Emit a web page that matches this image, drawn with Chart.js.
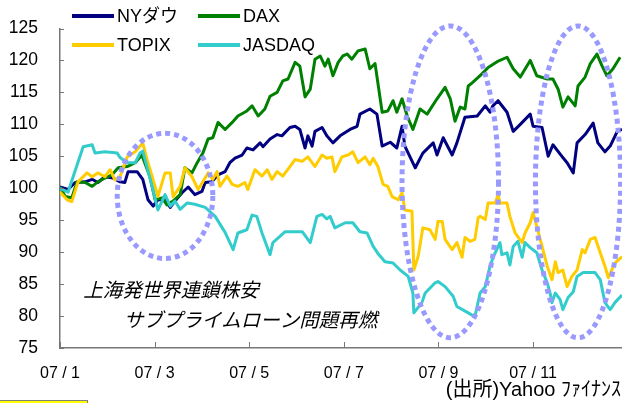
<!DOCTYPE html>
<html>
<head>
<meta charset="utf-8">
<script src="https://cdn.jsdelivr.net/npm/chart.js@4/dist/chart.umd.min.js"></script>
<style>
  html, body { margin: 0; padding: 0; background: #fff; }
  #wrap { width: 622px; height: 403px; }
</style>
</head>
<body>
<div id="wrap"><canvas id="IndexChart" width="622" height="403"></canvas></div>
<script>
"use strict";

// 2007, index (start = 100). x is months from 07/1
const seriesNames = ["NYダウ", "DAX", "TOPIX", "JASDAQ"];
const seriesColors = ["#000080", "#008000", "#FFCC00", "#33CCCC"];

const nyMonths = [0, 0.17, 0.32, 0.53, 0.68, 0.80, 0.95, 1.12, 1.27, 1.37, 1.44, 1.63, 1.75, 1.86, 1.97, 2.07, 2.22, 2.33, 2.43, 2.58,
    2.71, 2.85, 3.00, 3.07, 3.21, 3.34, 3.49, 3.59, 3.70, 3.85, 3.95, 4.08, 4.23, 4.29, 4.44, 4.59, 4.69, 4.86, 4.97, 5.07,
    5.18, 5.24, 5.33, 5.39, 5.54, 5.64, 5.77, 5.92, 6.13, 6.28, 6.34, 6.55, 6.70, 6.81, 6.98, 7.12, 7.23, 7.29, 7.51, 7.67,
    7.89, 7.97, 8.10, 8.29, 8.39, 8.56, 8.82, 8.99, 9.09, 9.15, 9.26, 9.45, 9.58, 9.73, 9.94, 10.00, 10.19, 10.32, 10.42, 10.61,
    10.72, 10.85, 10.93, 11.10, 11.27, 11.37, 11.52, 11.63, 11.78, 11.88];
const nyValues = [100.2, 99.8, 100.9, 101.0, 101.4, 100.9, 101.8, 101.6, 101.0, 100.9, 102.6, 102.6, 101.4, 98.2, 97.2, 98.2, 98.2, 97.0, 98.0, 99.3,
    100.2, 99.0, 99.5, 100.9, 101.0, 102.1, 102.6, 104.0, 104.7, 105.2, 106.3, 106.0, 107.1, 106.5, 107.7, 108.4, 108.2, 109.5, 109.7, 109.2,
    106.3, 108.2, 106.6, 108.9, 109.5, 108.2, 107.1, 108.2, 109.2, 109.7, 111.6, 112.4, 111.6, 106.6, 107.2, 106.3, 109.7, 106.6, 103.2, 105.5,
    107.1, 105.2, 107.9, 105.2, 107.1, 111.1, 111.3, 112.9, 111.9, 112.9, 113.7, 111.9, 108.9, 110.0, 111.6, 109.7, 109.5, 105.0, 106.8, 105.0,
    104.0, 102.4, 107.1, 108.4, 110.2, 107.1, 105.7, 106.6, 108.9, 109.2];

const daxMonths = [0, 0.11, 0.25, 0.36, 0.53, 0.68, 0.80, 0.95, 1.10, 1.23, 1.42, 1.59, 1.73, 1.90, 2.01, 2.16, 2.26, 2.39, 2.54, 2.64,
    2.79, 2.90, 3.02, 3.13, 3.23, 3.34, 3.49, 3.64, 3.76, 3.95, 4.06, 4.19, 4.33, 4.44, 4.59, 4.71, 4.82, 4.97, 5.07, 5.18,
    5.29, 5.39, 5.50, 5.60, 5.67, 5.77, 5.88, 5.98, 6.07, 6.17, 6.30, 6.45, 6.55, 6.66, 6.81, 6.93, 7.04, 7.12, 7.23, 7.34,
    7.46, 7.61, 7.76, 7.97, 8.14, 8.25, 8.35, 8.46, 8.56, 8.63, 8.73, 8.92, 9.05, 9.24, 9.45, 9.58, 9.73, 9.94, 10.08, 10.30,
    10.42, 10.53, 10.63, 10.74, 10.89, 10.95, 11.10, 11.21, 11.35, 11.46, 11.56, 11.69, 11.84];
const daxValues = [100.2, 98.7, 98.5, 101.0, 100.9, 100.3, 101.0, 101.6, 102.1, 103.2, 103.4, 104.0, 105.2, 101.8, 98.2, 98.5, 97.4, 98.0, 99.0, 103.2,
    102.4, 104.0, 105.5, 107.7, 107.9, 110.3, 109.2, 110.3, 111.3, 112.1, 112.9, 111.3, 112.4, 114.4, 115.0, 116.8, 117.1, 119.7, 119.1, 114.3,
    115.5, 120.2, 120.7, 119.1, 120.2, 117.6, 119.7, 120.7, 121.0, 120.2, 121.5, 121.8, 118.7, 119.5, 111.9, 112.1, 113.7, 111.9, 114.0, 111.3,
    109.2, 112.4, 111.6, 114.0, 115.8, 114.0, 110.5, 112.7, 112.4, 116.0, 116.6, 117.9, 118.9, 119.8, 120.5, 118.7, 117.4, 120.0, 117.6, 117.1,
    117.1, 115.5, 112.7, 114.3, 112.9, 116.0, 117.4, 119.5, 121.0, 119.1, 117.6, 118.7, 120.5];

const topixMonths = [0, 0.15, 0.25, 0.38, 0.57, 0.68, 0.80, 0.95, 1.06, 1.16, 1.27, 1.42, 1.59, 1.75, 1.84, 1.95, 2.07, 2.22, 2.33, 2.39,
    2.54, 2.64, 2.79, 2.92, 3.02, 3.13, 3.23, 3.32, 3.38, 3.53, 3.64, 3.76, 3.91, 3.97, 4.12, 4.27, 4.38, 4.48, 4.59, 4.71,
    4.86, 4.97, 5.12, 5.24, 5.39, 5.54, 5.64, 5.75, 5.81, 5.96, 6.09, 6.19, 6.30, 6.45, 6.55, 6.62, 6.72, 6.83, 6.93, 7.02,
    7.15, 7.23, 7.29, 7.44, 7.48, 7.57, 7.67, 7.82, 7.93, 7.99, 8.08, 8.14, 8.29, 8.39, 8.50, 8.56, 8.67, 8.77, 8.84, 8.88,
    8.99, 9.05, 9.20, 9.26, 9.30, 9.45, 9.51, 9.62, 9.77, 9.83, 9.94, 10.00, 10.08, 10.19, 10.30, 10.40, 10.47, 10.53, 10.63, 10.72,
    10.82, 10.93, 11.04, 11.10, 11.21, 11.31, 11.42, 11.52, 11.59, 11.73, 11.88];
const topixValues = [99.4, 98.2, 97.9, 101.0, 102.4, 101.8, 102.4, 101.8, 102.9, 101.3, 101.8, 104.9, 105.7, 107.1, 104.5, 101.8, 98.7, 102.4, 102.4, 98.7,
    100.3, 103.2, 101.8, 99.8, 101.0, 102.4, 101.4, 102.6, 100.3, 101.9, 100.6, 100.3, 100.9, 99.8, 102.9, 101.9, 102.9, 101.4, 102.6, 101.9,
    103.4, 104.5, 104.2, 104.9, 103.4, 105.2, 104.7, 104.9, 102.6, 104.9, 105.2, 105.7, 104.0, 104.9, 103.7, 104.7, 103.4, 100.6, 100.3, 98.7,
    98.2, 99.3, 96.6, 96.4, 87.2, 89.3, 93.8, 93.5, 92.0, 94.8, 94.8, 92.0, 90.4, 91.5, 89.2, 92.3, 91.7, 92.0, 95.4, 95.6,
    95.1, 97.7, 97.7, 99.0, 97.7, 97.7, 95.6, 93.0, 91.5, 93.0, 94.6, 96.2, 94.0, 90.9, 87.8, 85.7, 88.5, 86.8, 87.2, 84.6,
    86.2, 87.2, 90.4, 89.9, 92.0, 92.3, 89.9, 87.8, 86.0, 88.3, 89.3];

const jasdaqMonths = [0, 0.17, 0.49, 0.68, 0.74, 0.95, 1.21, 1.27, 1.42, 1.59, 1.69, 1.75, 1.95, 2.07, 2.22, 2.33, 2.43, 2.54, 2.69, 2.85,
    3.07, 3.28, 3.49, 3.66, 3.76, 3.95, 4.06, 4.16, 4.27, 4.44, 4.50, 4.76, 5.12, 5.29, 5.43, 5.54, 5.64, 5.71, 5.81, 6.03,
    6.19, 6.34, 6.49, 6.62, 6.72, 6.87, 7.04, 7.19, 7.36, 7.46, 7.48, 7.65, 7.72, 7.93, 7.99, 8.14, 8.31, 8.39, 8.63, 8.77,
    8.88, 8.99, 9.09, 9.15, 9.30, 9.34, 9.45, 9.51, 9.58, 9.68, 9.77, 9.83, 9.94, 10.08, 10.19, 10.30, 10.36, 10.40, 10.47, 10.57,
    10.63, 10.74, 10.85, 10.93, 11.06, 11.31, 11.42, 11.52, 11.63, 11.73, 11.88];
const jasdaqValues = [100.0, 99.4, 106.5, 106.8, 105.5, 105.7, 105.5, 104.8, 104.0, 104.0, 105.5, 105.8, 100.2, 96.6, 99.0, 97.2, 98.0, 96.7, 97.7, 97.5,
    97.0, 95.6, 93.1, 90.4, 93.0, 93.5, 95.8, 95.6, 93.0, 89.6, 91.5, 93.2, 93.2, 91.5, 95.6, 95.9, 95.2, 95.6, 93.8, 94.6,
    94.6, 93.2, 93.0, 90.9, 89.8, 88.5, 88.3, 87.2, 86.2, 83.6, 80.5, 82.1, 83.6, 85.2, 85.4, 84.6, 83.1, 81.5, 80.5, 79.9,
    83.6, 84.6, 87.8, 89.1, 91.5, 89.6, 89.9, 88.0, 90.9, 91.7, 89.2, 91.5, 90.7, 89.9, 87.2, 85.2, 83.6, 82.1, 83.6, 82.6,
    81.0, 82.9, 83.8, 86.2, 86.8, 86.8, 85.7, 82.1, 81.0, 82.1, 83.3];

const xTickMonths = [0, 2, 4, 6, 8, 10];
const xTickLabels = ["07 / 1", "07 / 3", "07 / 5", "07 / 7", "07 / 9", "07 / 11"];
const yMin = 75, yMax = 125, yStep = 5;

// dotted rings, in data units: centre month, centre value, half width (months), half height (points)
const rings = [
    { cx: 2.22, cy: 98.8, rx: 1.01, ry: 9.8 },
    { cx: 8.25, cy: 101.0, rx: 1.02, ry: 24.4 },
    { cx: 10.95, cy: 101.0, rx: 0.9, ry: 24.4 }
];
const notes = [
    { text: "上海発世界連鎖株安", x: 0.49, y: 84.1 },
    { text: "サブプライムローン問題再燃", x: 1.35, y: 79.4 }
];
const sourceText = "(出所)Yahoo ﾌｧｲﾅﾝｽ";

const latin = "'Liberation Sans', Arial, 'Noto Sans CJK JP', sans-serif";
const axisColor = "#777777";

function toPoints(months, values) {
    return months.map(function (m, i) {
        return { x: m, y: values[i] };
    });
}

const decorPlugin = {
    id: "decor",
    afterDatasetsDraw: function (chart) {
        const ctx = chart.ctx;
        const xs = chart.scales.x;
        const ys = chart.scales.y;
        const area = chart.chartArea;
        ctx.save();

        // inside tick marks
        ctx.strokeStyle = axisColor;
        ctx.lineWidth = 1;
        for (let v = yMin; v <= yMax; v += yStep) {
            const py = Math.round(ys.getPixelForValue(v)) + 0.5;
            ctx.beginPath();
            ctx.moveTo(area.left, py);
            ctx.lineTo(area.left + 4, py);
            ctx.stroke();
        }
        xTickMonths.forEach(function (m) {
            const px = Math.round(xs.getPixelForValue(m)) + 0.5;
            ctx.beginPath();
            ctx.moveTo(px, area.bottom);
            ctx.lineTo(px, area.bottom - 6);
            ctx.stroke();
        });

        // dotted rings
        ctx.strokeStyle = "#9999FF";
        ctx.lineWidth = 5;
        ctx.setLineDash([5, 4]);
        rings.forEach(function (r) {
            const cx = xs.getPixelForValue(r.cx);
            const cy = ys.getPixelForValue(r.cy);
            const rx = xs.getPixelForValue(r.cx + r.rx) - cx;
            const ry = cy - ys.getPixelForValue(r.cy + r.ry);
            ctx.beginPath();
            ctx.ellipse(cx, cy, rx, ry, 0, 0, Math.PI * 2);
            ctx.stroke();
        });
        ctx.setLineDash([]);

        // notes
        ctx.fillStyle = "#000";
        ctx.textBaseline = "middle";
        ctx.textAlign = "left";
        ctx.font = "italic 19.5px 'Noto Sans CJK JP', sans-serif";
        notes.forEach(function (n) {
            ctx.fillText(n.text, xs.getPixelForValue(n.x), ys.getPixelForValue(n.y));
        });

        // legend, two columns
        ctx.font = "18px " + latin;
        ctx.lineWidth = 4;
        const cols = [72, 198];
        const rows = [16, 45];
        seriesNames.forEach(function (name, i) {
            const lx = cols[i % 2];
            const ly = rows[Math.floor(i / 2)];
            ctx.strokeStyle = seriesColors[i];
            ctx.beginPath();
            ctx.moveTo(lx, ly);
            ctx.lineTo(lx + 42, ly);
            ctx.stroke();
            ctx.fillText(name, lx + 45, ly + 1);
        });

        // source
        ctx.font = "20px " + latin;
        ctx.textAlign = "right";
        ctx.fillText(sourceText, 621, 390);

        // yellow box peeking in at the bottom
        ctx.fillStyle = "#FFFF00";
        ctx.strokeStyle = "#808080";
        ctx.lineWidth = 1;
        ctx.fillRect(0, 400, 88, 6);
        ctx.strokeRect(-1.5, 400.5, 89, 8);
        ctx.restore();
    }
};

const datasets = [
    toPoints(nyMonths, nyValues),
    toPoints(daxMonths, daxValues),
    toPoints(topixMonths, topixValues),
    toPoints(jasdaqMonths, jasdaqValues)
].map(function (pts, i) {
    return {
        label: seriesNames[i],
        data: pts,
        borderColor: seriesColors[i],
        backgroundColor: seriesColors[i],
        borderWidth: 3,
        pointRadius: 0,
        tension: 0,
        borderJoinStyle: "round",
        order: 4 - i
    };
});

new Chart(document.getElementById("IndexChart"), {
    type: "line",
    data: { datasets: datasets },
    options: {
        responsive: false,
        animation: false,
        layout: { padding: { top: 28.5, left: 0, right: 0, bottom: 0 } },
        plugins: {
            legend: { display: false },
            tooltip: { enabled: false }
        },
        scales: {
            x: {
                type: "linear",
                min: 0,
                max: 11.88,
                afterBuildTicks: function (scale) {
                    scale.ticks = xTickMonths.map(function (m) { return { value: m }; });
                },
                afterFit: function (scale) { scale.height = 55; },
                grid: { drawOnChartArea: false, drawTicks: false },
                border: { display: true, color: axisColor, width: 1.5 },
                ticks: {
                    autoSkip: false,
                    maxRotation: 0,
                    padding: 16,
                    color: "#000",
                    font: { family: latin, size: 16 },
                    callback: function (value) {
                        return xTickLabels[xTickMonths.indexOf(value)];
                    }
                }
            },
            y: {
                min: yMin,
                max: yMax,
                afterFit: function (scale) {
                    scale.width = 60;
                    scale.paddingTop = 0;
                    scale.paddingBottom = 0;
                },
                grid: { drawOnChartArea: false, drawTicks: false },
                border: { display: true, color: axisColor, width: 1.5 },
                ticks: {
                    stepSize: yStep,
                    padding: 22,
                    color: "#000",
                    font: { family: latin, size: 17.5 }
                }
            }
        }
    },
    plugins: [decorPlugin]
});
</script>
</body>
</html>
